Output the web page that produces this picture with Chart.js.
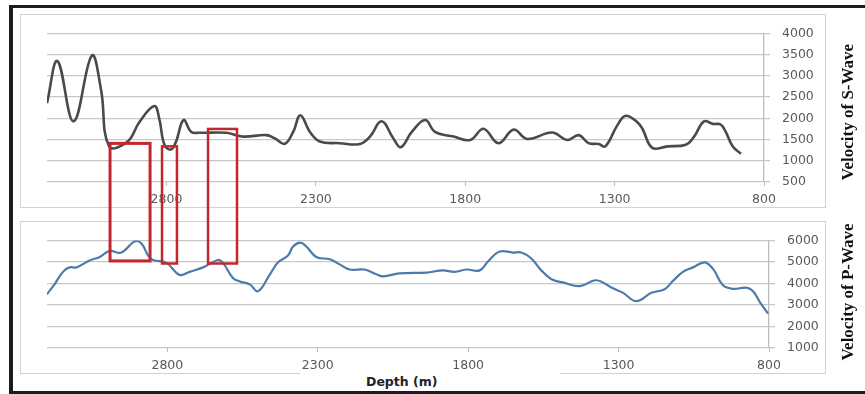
<!DOCTYPE html>
<html>
<head>
<meta charset="utf-8">
<script src="https://cdn.jsdelivr.net/npm/chart.js@4/dist/chart.umd.min.js"></script>
<style>
  html, body { margin: 0; padding: 0; background: #fff; overflow: hidden; }
  body { width: 865px; height: 394px; position: relative; }
  .bar { position: absolute; background: #1c1c1c; }
  .panel { position: absolute; border: 1px solid #d2d2d2; box-sizing: border-box; }
  canvas { position: absolute; }
  .ytitle { position: absolute; font: bold 17px "Liberation Serif", serif; color: #111;
            white-space: nowrap; transform: translate(-50%, -50%) rotate(-90deg); }
  .xtitle { position: absolute; left: 300px; top: 371px; width: 260px; height: 19px; background: #fff; }
  .xtitle span { position: absolute; left: 66px; top: 3px; font: bold 12.5px "DejaVu Sans", sans-serif; color: #222; }
</style>
</head>
<body>
<div class="bar" style="left:9px; top:5px; width:856px; height:3px;"></div>
<div class="bar" style="left:9px; top:391px; width:856px; height:3px;"></div>
<div class="bar" style="left:9px; top:5px; width:4px; height:389px;"></div>
<div class="panel" style="left:20px; top:14px; width:806px; height:194px;"></div>
<div class="panel" style="left:20px; top:221px; width:806px; height:153px;"></div>
<canvas id="chartS" width="805" height="193" style="left:20px; top:14px;"></canvas>
<canvas id="chartP" width="805" height="152" style="left:20px; top:221px;"></canvas>
<canvas id="overlay" width="865" height="394" style="left:0; top:0; pointer-events:none;"></canvas>
<div class="ytitle" style="left:848px; top:112px;">Velocity of S-Wave</div>
<div class="ytitle" style="left:848px; top:292px;">Velocity of P-Wave</div>
<div class="xtitle"><span>Depth (m)</span></div>
<script>
// profundidad (m) y velocidades
const sDepth = [3200, 3165, 3111, 3050, 3019, 2992, 2930, 2891, 2841, 2824, 2807, 2785, 2768, 2743, 2717,
  2690, 2600, 2544, 2466, 2438, 2404, 2376, 2352, 2320, 2287, 2220, 2153, 2119, 2080, 2041,
  2016, 1979, 1934, 1901, 1839, 1783, 1739, 1689, 1638, 1593, 1509, 1459, 1420, 1387, 1353,
  1331, 1291, 1263, 1224, 1207, 1174, 1123, 1062, 1034, 1001, 972, 945, 928, 905, 877];
const sVel = [2360, 3350, 1930, 3480, 2670, 1340, 1455, 1910, 2290, 1985, 1380, 1265, 1455, 1960, 1680,
  1660, 1660, 1570, 1605, 1530, 1400, 1680, 2075, 1680, 1455, 1415, 1395, 1570, 1930, 1530,
  1320, 1680, 1960, 1680, 1570, 1490, 1755, 1415, 1735, 1515, 1665, 1490, 1605, 1415, 1395,
  1340, 1835, 2060, 1910, 1755, 1305, 1340, 1380, 1570, 1930, 1870, 1855, 1680, 1340, 1165];

const pDepth = [3200, 3174, 3147, 3125, 3102, 3058, 3025, 2992, 2953, 2908, 2886, 2864, 2848, 2803, 2759,
  2726, 2681, 2632, 2615, 2582, 2559, 2526, 2499, 2460, 2432, 2399, 2382, 2358, 2338, 2305,
  2260, 2227, 2194, 2144, 2105, 2083, 2028, 1939, 1884, 1845, 1806, 1762, 1734, 1695, 1651,
  1623, 1590, 1557, 1523, 1485, 1429, 1374, 1319, 1285, 1241, 1191, 1147, 1119, 1086, 1053,
  1014, 986, 953, 920, 875, 853, 831, 803];
const pVel = [3500, 3985, 4540, 4750, 4750, 5070, 5235, 5510, 5440, 5960, 5860, 5305, 5095, 4960, 4400,
  4540, 4750, 5095, 4960, 4260, 4095, 3960, 3640, 4400, 4985, 5300, 5720, 5900, 5720, 5235,
  5125, 4890, 4650, 4650, 4430, 4330, 4470, 4510, 4610, 4540, 4650, 4610, 5025, 5485, 5440,
  5440, 5165, 4610, 4195, 4055, 3875, 4150, 3775, 3565, 3180, 3565, 3735, 4125, 4540, 4750,
  4985, 4680, 3915, 3750, 3805, 3640, 3150, 2595];

const depthTicks = [2800, 2300, 1800, 1300, 800];
const sTicks = [500, 1000, 1500, 2000, 2500, 3000, 3500, 4000];
const pTicks = [1000, 2000, 3000, 4000, 5000, 6000];

// recuadros rojos: intervalo de profundidad, tope en Vs, base en Vp
const boxFrom = [2989, 2815, 2661];
const boxTo = [2855, 2765, 2564];
const boxSTop = [1410, 1340, 1750];
const boxPBottom = [5050, 4930, 4930];
const boxWidth = [3, 2.5, 2.5];

const tickFont = { family: 'DejaVu Sans', size: 12.5 };

function crearGrafico(id, depths, vels, color, lineWidth, yTicks, opts) {
  return new Chart(document.getElementById(id), {
    type: 'line',
    data: {
      datasets: [{
        data: depths.map((d, i) => ({ x: d, y: vels[i] })),
        borderColor: color,
        borderWidth: lineWidth,
        pointRadius: 0,
        tension: 0.4,
        fill: false
      }]
    },
    options: {
      responsive: false,
      animation: false,
      layout: { padding: { left: 27, top: opts.top, right: 0, bottom: 0 } },
      plugins: { legend: { display: false }, tooltip: { enabled: false } },
      scales: {
        x: {
          type: 'linear',
          reverse: true,
          min: 800,
          max: 3200,
          afterBuildTicks: s => { s.ticks = depthTicks.map(v => ({ value: v })); },
          afterFit: s => { s.height = 25; },
          grid: { drawOnChartArea: false, drawTicks: true, tickLength: 4, color: '#bdbdbd' },
          border: { display: false },
          ticks: { padding: 6, color: '#595959', font: tickFont, maxRotation: 0, autoSkip: false,
                   callback: v => String(v) }
        },
        y: {
          position: 'right',
          min: yTicks[0],
          max: yTicks[yTicks.length - 1],
          afterBuildTicks: s => { s.ticks = yTicks.map(v => ({ value: v })); },
          afterFit: s => { s.width = opts.axisWidth; },
          grid: { color: '#c8c8c8', lineWidth: 1.3, tickLength: 6 },
          border: { display: true, color: '#bdbdbd', width: 1.3 },
          ticks: { padding: 12, color: '#595959', font: tickFont, callback: v => String(v) }
        }
      }
    }
  });
}

const chartS = crearGrafico('chartS', sDepth, sVel, '#4a4a4a', 2.6, sTicks, { top: 14, axisWidth: 61 });
const chartP = crearGrafico('chartP', pDepth, pVel, '#4b7aab', 2.2, pTicks, { top: 7, axisWidth: 56 });

// dibujar los recuadros sobre ambos graficos
const cS = document.getElementById('chartS');
const cP = document.getElementById('chartP');
const ctx = document.getElementById('overlay').getContext('2d');
ctx.strokeStyle = '#c3262d';
boxFrom.forEach((d, i) => {
  const x1 = cS.offsetLeft + chartS.scales.x.getPixelForValue(d);
  const x2 = cS.offsetLeft + chartS.scales.x.getPixelForValue(boxTo[i]);
  const y1 = cS.offsetTop + chartS.scales.y.getPixelForValue(boxSTop[i]);
  const y2 = cP.offsetTop + chartP.scales.y.getPixelForValue(boxPBottom[i]);
  ctx.lineWidth = boxWidth[i];
  ctx.strokeRect(x1, y1, x2 - x1, y2 - y1);
});
</script>
</body>
</html>
